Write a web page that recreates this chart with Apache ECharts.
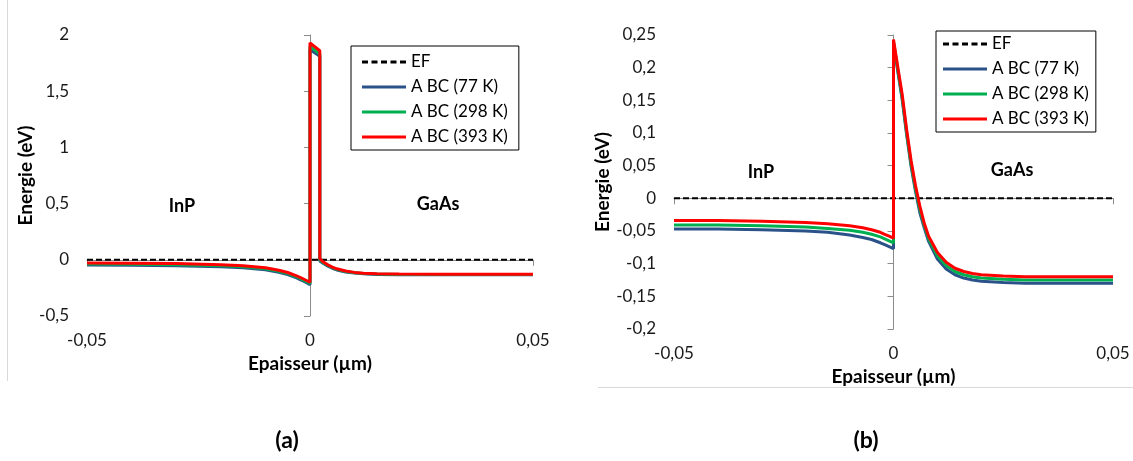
<!DOCTYPE html>
<html><head><meta charset="utf-8">
<script src="https://cdn.jsdelivr.net/npm/echarts@6/dist/echarts.min.js"></script>
<style>html,body{margin:0;padding:0;background:#fff}#c{width:1133px;height:461px}</style>
</head><body><div id="c"></div>
<script>
// ---------- data ----------
const seriesNames = ['EF', 'A BC (77 K)', 'A BC (298 K)', 'A BC (393 K)'];
const panelLabels = ['(a)', '(b)'];
const regionLabels = ['InP', 'GaAs'];
const xAxisTitle = 'Epaisseur (µm)';
const yAxisTitle = 'Energie (eV)';

const efX = [-0.05, 0.05];
const efY = [0, 0];

// panel (a)
const xA = [-0.05,-0.04,-0.03,-0.02,-0.015,-0.01,-0.007,-0.005,-0.003,-0.002,-0.001,0,0,0.0022,0.0022,0.003,0.004,0.005,0.006,0.008,0.01,0.012,0.015,0.02,0.03,0.04,0.05];
const blueA  = [-0.046,-0.048,-0.052,-0.061,-0.071,-0.088,-0.111,-0.131,-0.161,-0.18,-0.2,-0.222,1.87,1.81,-0.01,-0.033,-0.056,-0.075,-0.09,-0.108,-0.118,-0.125,-0.13,-0.133,-0.134,-0.134,-0.134];
const greenA = [-0.037,-0.039,-0.043,-0.052,-0.062,-0.079,-0.102,-0.122,-0.152,-0.17,-0.19,-0.21,1.9,1.83,0.0,-0.027,-0.05,-0.07,-0.085,-0.104,-0.115,-0.122,-0.127,-0.13,-0.131,-0.131,-0.131];
const redA   = [-0.028,-0.03,-0.034,-0.043,-0.053,-0.07,-0.093,-0.113,-0.143,-0.16,-0.18,-0.2,1.93,1.86,0.01,-0.02,-0.045,-0.065,-0.08,-0.1,-0.112,-0.119,-0.124,-0.127,-0.128,-0.128,-0.128];

// panel (b)
const xB = [-0.05,-0.04,-0.03,-0.02,-0.015,-0.01,-0.007,-0.005,-0.003,-0.002,-0.001,0,0,0.001,0.002,0.003,0.004,0.005,0.006,0.007,0.008,0.01,0.012,0.014,0.016,0.018,0.02,0.025,0.03,0.04,0.05];
const blueB  = [-0.047,-0.047,-0.048,-0.05,-0.052,-0.056,-0.06,-0.063,-0.068,-0.071,-0.074,-0.077,0.237,0.193,0.15,0.097,0.049,0.011,-0.022,-0.045,-0.066,-0.093,-0.108,-0.117,-0.122,-0.125,-0.127,-0.129,-0.13,-0.13,-0.13];
const greenB = [-0.041,-0.041,-0.042,-0.044,-0.046,-0.049,-0.052,-0.055,-0.059,-0.062,-0.065,-0.068,0.24,0.196,0.153,0.1,0.053,0.015,-0.017,-0.041,-0.062,-0.088,-0.103,-0.112,-0.117,-0.12,-0.122,-0.124,-0.125,-0.125,-0.125];
const redB   = [-0.034,-0.034,-0.035,-0.037,-0.039,-0.042,-0.045,-0.048,-0.052,-0.055,-0.058,-0.061,0.243,0.2,0.158,0.105,0.058,0.02,-0.012,-0.038,-0.058,-0.083,-0.098,-0.107,-0.112,-0.115,-0.117,-0.119,-0.12,-0.12,-0.12];

const xTicks = { min: -0.05, max: 0.05, interval: 0.05 };
const yTicksA = { min: -0.5, max: 2, interval: 0.5 };
const yTicksB = { min: -0.2, max: 0.25, interval: 0.05 };

// ---------- chart ----------
const FONT = 'Lato';
const colors = ['#000000', '#2a5289', '#00b050', '#ff0000'];
const pairs = (xs, ys) => xs.map((x, i) => [x, ys[i]]);
const fmt = v => String(+(+v).toFixed(4)).replace('.', ',');
const dashIcon = 'path://M0,0H6V3H0Z M9.5,0H15.5V3H9.5Z M19,0H25V3H19Z M28.5,0H34.5V3H28.5Z M38,0H44V3H38Z';

function xAxisDef(gi) {
  return {
    type: 'value', gridIndex: gi, min: xTicks.min, max: xTicks.max, interval: xTicks.interval,
    name: xAxisTitle, nameLocation: 'middle', nameGap: 33,
    nameTextStyle: { fontFamily: FONT, fontSize: 19, fontWeight: 'bold', color: '#000' },
    axisLine: { lineStyle: { color: '#8c8c8c', width: 1 } },
    axisTick: { show: true, inside: false, length: 6, lineStyle: { color: '#8c8c8c' } },
    axisLabel: { formatter: fmt, fontFamily: FONT, fontSize: 17, color: '#1a1a1a', margin: 16 },
    splitLine: { show: false }
  };
}
function yAxisDef(gi, t, gap) {
  return {
    type: 'value', gridIndex: gi, min: t.min, max: t.max, interval: t.interval,
    name: yAxisTitle, nameLocation: 'middle', nameGap: gap, nameRotate: 90,
    nameTextStyle: { fontFamily: FONT, fontSize: 19, fontWeight: 'bold', color: '#000' },
    axisLine: { show: true, lineStyle: { color: '#8c8c8c', width: 1 } },
    axisTick: { show: true, inside: false, length: 6, lineStyle: { color: '#8c8c8c' } },
    axisLabel: { formatter: fmt, fontFamily: FONT, fontSize: 17, color: '#1a1a1a', margin: 18 },
    splitLine: { show: false }
  };
}
function lineSeries(gi, name, idx, xs, ys) {
  const dashed = idx === 0;
  return {
    type: 'line', name, xAxisIndex: gi, yAxisIndex: gi, data: pairs(xs, ys),
    showSymbol: false, symbol: 'none', smooth: false, animation: false,
    lineStyle: { color: colors[idx], width: dashed ? 2 : 3, type: dashed ? [6, 3] : 'solid' },
    itemStyle: { color: colors[idx] },
    z: 2 + idx
  };
}
function legendDef(left, top, padding) {
  return {
    show: true, orient: 'vertical', left, top, padding, itemGap: 5, itemWidth: 44, itemHeight: 3,
    data: seriesNames.map((n, i) => ({ name: n, icon: i === 0 ? dashIcon : 'rect' })),
    borderColor: '#000', borderWidth: 1, backgroundColor: '#fff',
    textStyle: { fontFamily: FONT, fontSize: 17, color: '#000', lineHeight: 20, height: 20 },
    selectedMode: false
  };
}

const textStyleBold = (s) => ({ fontFamily: FONT, fontSize: s, fontWeight: 'bold', fill: '#000' });

const option = {
  animation: false,
  backgroundColor: '#fff',
  grid: [
    { left: 87, right: 600, top: 35, bottom: 145 },
    { left: 674, right: 20, top: 35, bottom: 132 }
  ],
  xAxis: [xAxisDef(0), xAxisDef(1)],
  yAxis: [yAxisDef(0, yTicksA, 50), yAxisDef(1, yTicksB, 54)],
  legend: [legendDef(351, 46, [6, 11, 3, 11]), legendDef(936, 31, [3, 7, 3, 7])],
  series: [
    lineSeries(0, seriesNames[0], 0, efX, efY),
    lineSeries(0, seriesNames[1], 1, xA, blueA),
    lineSeries(0, seriesNames[2], 2, xA, greenA),
    lineSeries(0, seriesNames[3], 3, xA, redA),
    lineSeries(1, seriesNames[0], 0, efX, efY),
    lineSeries(1, seriesNames[1], 1, xB, blueB),
    lineSeries(1, seriesNames[2], 2, xB, greenB),
    lineSeries(1, seriesNames[3], 3, xB, redB)
  ],
  graphic: [
    { type: 'line', shape: { x1: 7.5, y1: 0, x2: 7.5, y2: 381 }, style: { stroke: '#d9d9d9', lineWidth: 1 } },
    { type: 'line', shape: { x1: 598, y1: 387.5, x2: 1133, y2: 387.5 }, style: { stroke: '#d9d9d9', lineWidth: 1 } },
    { type: 'text', x: 182, y: 206, style: Object.assign({ text: regionLabels[0], align: 'center', verticalAlign: 'middle' }, textStyleBold(18)) },
    { type: 'text', x: 438, y: 204, style: Object.assign({ text: regionLabels[1], align: 'center', verticalAlign: 'middle' }, textStyleBold(18)) },
    { type: 'text', x: 761, y: 172, style: Object.assign({ text: regionLabels[0], align: 'center', verticalAlign: 'middle' }, textStyleBold(18)) },
    { type: 'text', x: 1012, y: 170, style: Object.assign({ text: regionLabels[1], align: 'center', verticalAlign: 'middle' }, textStyleBold(18)) },
    { type: 'text', x: 287, y: 441, style: Object.assign({ text: panelLabels[0], align: 'center', verticalAlign: 'middle' }, textStyleBold(23)) },
    { type: 'text', x: 866, y: 441, style: Object.assign({ text: panelLabels[1], align: 'center', verticalAlign: 'middle' }, textStyleBold(23)) }
  ]
};

const chart = echarts.init(document.getElementById('c'));
chart.setOption(option);
</script>
</body></html>
